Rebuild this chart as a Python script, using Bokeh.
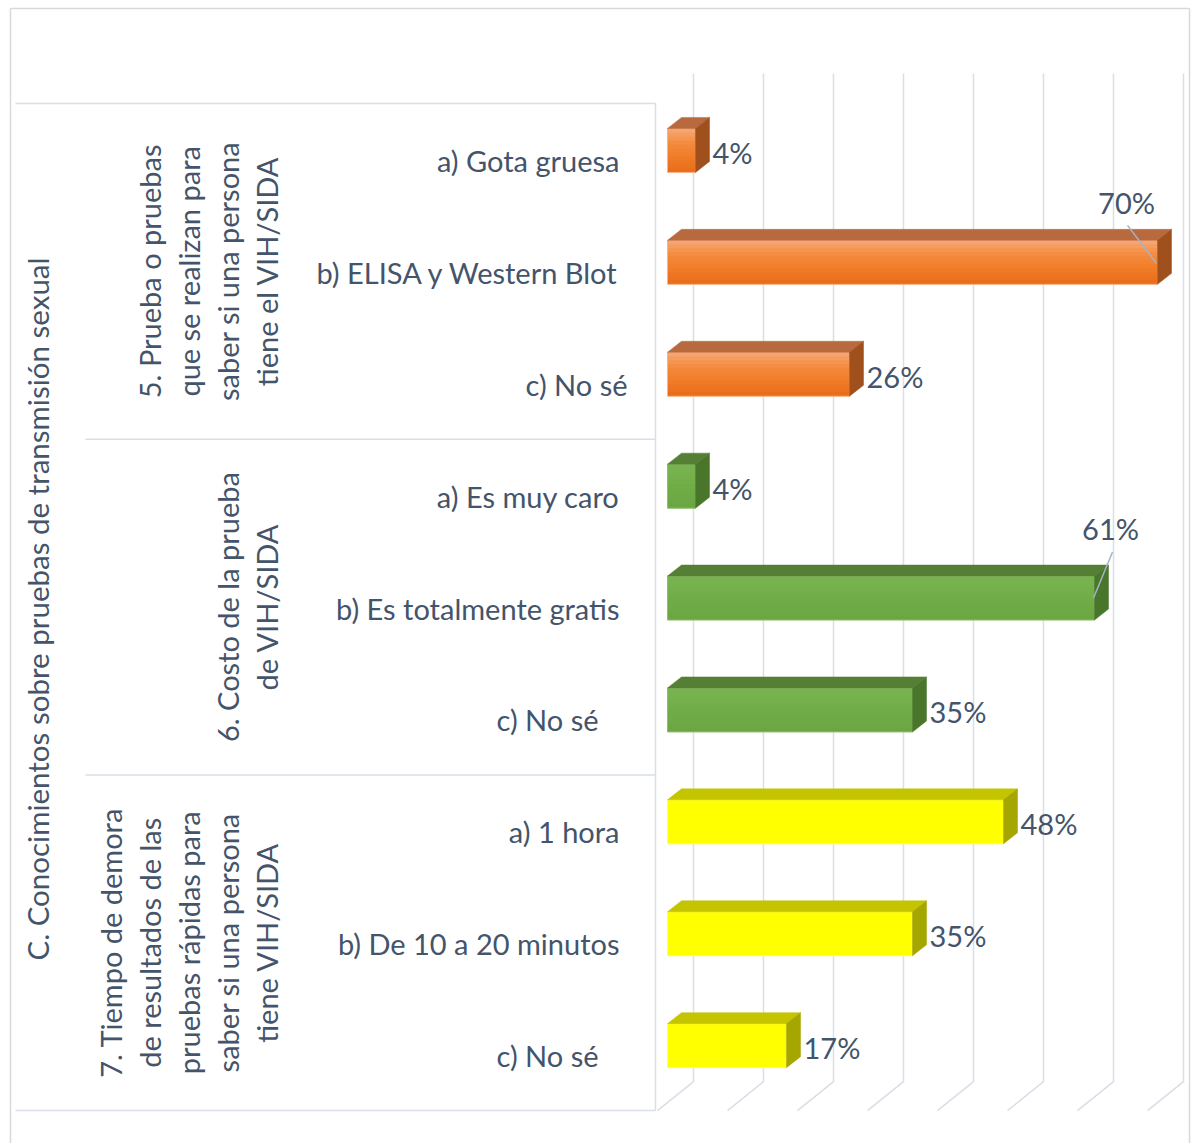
import math
from bokeh.plotting import figure
from bokeh.models import Range1d
from bokeh.core.properties import value
from bokeh.embed import file_html
from bokeh.resources import INLINE

# ---------------- data ----------------
section_title = "C. Conocimientos sobre pruebas de transmisión sexual"
questions = [
    ["5. Prueba o pruebas", "que se realizan para", "saber si una persona", "tiene el VIH/SIDA"],
    ["6. Costo de la prueba", "de VIH/SIDA"],
    ["7. Tiempo de demora", "de resultados de las", "pruebas rápidas para",
     "saber si una persona", "tiene VIH/SIDA"],
]
answers = ["a) Gota gruesa", "b) ELISA y Western Blot", "c) No sé",
           "a) Es muy caro", "b) Es totalmente gratis", "c) No sé",
           "a) 1 hora", "b) De 10 a 20 minutos", "c) No sé"]
answer_question = [0, 0, 0, 1, 1, 1, 2, 2, 2]
percentages = [4, 70, 26, 4, 61, 35, 48, 35, 17]
axis_ticks = [0, 10, 20, 30, 40, 50, 60, 70]

# ---------------- styles / layout (pixels) ----------------
W, H = 1195, 1143
X0, SX = 657, 7.0      # pixel of 0 % on the front plane, pixels per percent
Y0, SY = 103, 111.9    # top of category band, pixels per category

TEXT = "#44546A"
FONT = value("Lato")
FS = "29px"
GRID = "#D9DEE7"

group_styles = [
    dict(front=["#F5A56F", "#F48A3C", "#F07C28", "#E96E1B"], top="#B86A3E", side="#A0501D", edge="#F6B48A"),
    dict(front=["#79B350", "#70AD47", "#6BA643"], top="#557F35", side="#4A762C", edge="#8DC06A"),
    dict(front=["#FFFF00", "#FFFF00"], top="#C4C400", side="#A6A600", edge="#FFFF70"),
]
answer_shift_px = [0, 0, 8, 0, 0, -21, 0, 0, -21]
# callouts: (label dx, label dy, leader start dx, dy, leader end dx, dy) relative to bar front end/center
callouts = {1: (-31, -60, -30, -37, -1, 1), 4: (16, -70, 18, -46, -1, 0)}


def dxp(px):
    return px / SX


def dyp(py):
    return py / SY


def X(px):
    return (px - X0) / SX


def Y(py):
    return (py - Y0) / SY


def hex2rgb(h):
    h = h.lstrip("#")
    return [int(h[i:i + 2], 16) for i in (0, 2, 4)]


def lerp_colors(stops, n):
    out = []
    for k in range(n):
        t = k / (n - 1) * (len(stops) - 1)
        i = min(int(t), len(stops) - 2)
        f = t - i
        a, b = hex2rgb(stops[i]), hex2rgb(stops[i + 1])
        out.append("#%02x%02x%02x" % tuple(round(a[j] + (b[j] - a[j]) * f) for j in range(3)))
    return out


p = figure(width=W, height=H, x_range=Range1d(X(0), X(W)), y_range=Range1d(Y(H), Y(0)),
           min_border=0, x_axis_location=None, y_axis_location=None,
           toolbar_location=None, output_backend="svg")
p.outline_line_color = None
p.grid.visible = False
p.background_fill_color = "white"
p.border_fill_color = "white"

# outer chart border
p.quad(left=[X(10)], right=[X(1189)], top=[Y(8)], bottom=[Y(1160)],
       fill_color=None, line_color="#D9D9D9", line_width=1.5)

# gridlines on back wall + floor
depth_x, depth_y = dxp(36), dyp(-29)
floor_front = len(answers)
xs, ys = [], []
for t in axis_ticks:
    xs.append([t + depth_x, t + depth_x, t])
    ys.append([Y(73), floor_front + depth_y, floor_front])
p.multi_line(xs=xs, ys=ys, line_color=GRID, line_width=1.5)

# category table lines
n = len(answers)
sep_x = [X(15)] + [X(85)] * (len(questions) - 1) + [X(15)]
for k, yy in enumerate(range(0, n + 1, 3)):
    p.segment(x0=[sep_x[k]], y0=[yy], x1=[X(655)], y1=[yy], line_color=GRID, line_width=1.5)
p.segment(x0=[X(655)], y0=[0], x1=[X(655)], y1=[n], line_color=GRID, line_width=1.5)

# bars (3D)
bx, bdx, bdy = dxp(10), dxp(14), dyp(-11)
NSTRIP = 11
for i, v in enumerate(percentages):
    st = group_styles[answer_question[i]]
    c = i + 0.5
    yt, yb = c + dyp(-31), c + dyp(13)
    xl, xr = bx, bx + v
    # base fill, then gradient strips that overlap each other
    p.quad(left=[xl], right=[xr], top=[yt], bottom=[yb], fill_color=st["front"][1], line_color=None)
    cols = lerp_colors(st["front"], NSTRIP)
    h = (yb - yt) / NSTRIP
    p.quad(left=[xl] * NSTRIP, right=[xr] * NSTRIP,
           top=[yt + k * h for k in range(NSTRIP)],
           bottom=[min(yb, yt + (k + 1) * h + dyp(1.5)) for k in range(NSTRIP)],
           fill_color=cols, line_color=None)
    p.quad(left=[xl], right=[xr], top=[yt], bottom=[yb], fill_color=None,
           line_color=st["edge"], line_width=1)
    p.patch(x=[xl, xr, xr + bdx, xl + bdx], y=[yt, yt, yt + bdy, yt + bdy],
            fill_color=st["top"], line_color=st["top"], line_width=0.5)
    p.patch(x=[xr, xr + bdx, xr + bdx, xr], y=[yt, yt + bdy, yb + bdy, yb],
            fill_color=st["side"], line_color=st["side"], line_width=0.5)

    label = f"{v}%"
    front_end_px = X0 + 10 + v * SX
    center_row = Y0 + c * SY - 9
    if i in callouts:
        lx, ly, sx0, sy0, sx1, sy1 = callouts[i]
        p.segment(x0=[X(front_end_px + sx0)], y0=[Y(center_row + sy0)],
                  x1=[X(front_end_px + sx1)], y1=[Y(center_row + sy1)],
                  line_color="#A6B3C4", line_width=1.5)
        p.text(x=[X(front_end_px + lx)], y=[Y(center_row + ly)], text=[label],
               text_font=FONT, text_font_size=FS, text_color=TEXT,
               text_align="center", text_baseline="middle")
    else:
        p.text(x=[X(front_end_px + 17)], y=[Y(center_row + 2)], text=[label],
               text_font=FONT, text_font_size=FS, text_color=TEXT,
               text_align="left", text_baseline="middle")

# answer labels
for i, a in enumerate(answers):
    p.text(x=[X(619 + answer_shift_px[i])], y=[i + 0.5 + dyp(1)], text=[a],
           text_font=FONT, text_font_size=FS, text_color=TEXT,
           text_align="right", text_baseline="middle")

# question labels (rotated, multi-line)
for q, lines in enumerate(questions):
    m = len(lines)
    for j, line in enumerate(lines):
        p.text(x=[X(266 - (m - 1 - j) * 39)], y=[q * 3 + 1.5], text=[line],
               text_font=FONT, text_font_size=FS, text_color=TEXT,
               text_align="center", text_baseline="middle", angle=math.pi / 2)

# section title
p.text(x=[X(37)], y=[n / 2 + dyp(2)], text=[section_title],
       text_font=FONT, text_font_size="29.5px", text_color=TEXT,
       text_align="center", text_baseline="middle", angle=math.pi / 2)

open("out.html", "w").write(file_html(p, INLINE))
